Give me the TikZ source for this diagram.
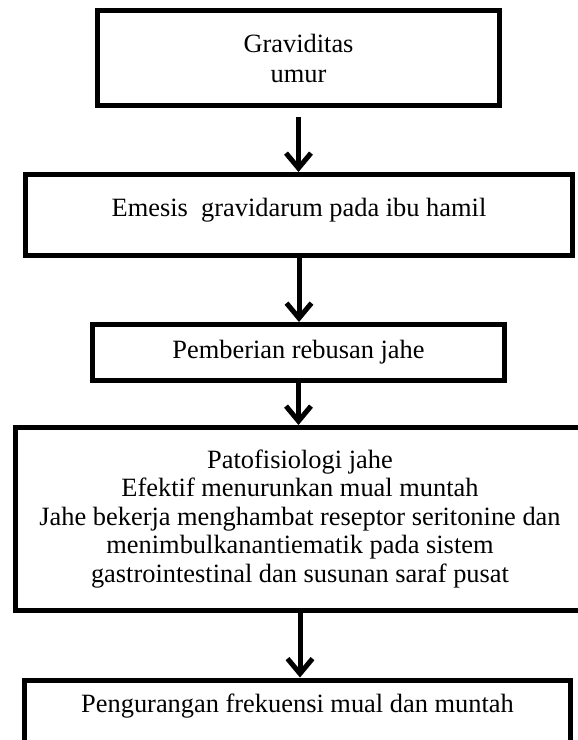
\documentclass[tikz,border=0pt]{standalone}
\usepackage{fontspec}
\setmainfont{Liberation Serif}
\usetikzlibrary{arrows.meta}
\begin{document}
\begin{tikzpicture}[x=1pt,y=-1pt,
  box/.style={draw=black, line width=5pt, rectangle, align=center, inner sep=0pt,
    font=\fontsize{26.4}{30}\selectfont},
  flow/.style={line width=5pt, -{Straight Barb[length=15pt,width=25pt]}}]
\useasboundingbox (0,0) rectangle (578,740);
\clip (0,0) rectangle (578,740);
\fill[white] (0,0) rectangle (578,740);
\node[box, minimum width=402pt, minimum height=95pt] (b1) at (298.5,58) {Graviditas\\umur};
\node[box, minimum width=547pt, minimum height=81pt, text depth=16pt] (b2) at (299,215) {Emesis\ \ gravidarum pada ibu hamil};
\node[box, minimum width=412pt, minimum height=56pt] (b3) at (298.5,352.5) {Pemberian rebusan jahe};
\node[box, minimum width=569pt, minimum height=183pt, font=\fontsize{26.4}{28.5}\selectfont] (b4) at (300,519)
  {Patofisiologi jahe\\Efektif menurunkan mual muntah\\Jahe bekerja menghambat reseptor seritonine dan\\menimbulkanantiematik pada sistem\\gastrointestinal dan susunan saraf pusat};
\node[box, anchor=north, minimum width=546pt, inner ysep=14pt, text depth=70pt] (b5) at (297.5,677.5) {Pengurangan frekuensi mual dan muntah};
\draw[flow, shorten <=9pt] (b1.south) -- (b1.south |- b2.north);
\draw[flow] (b2.south) -- (b2.south |- b3.north);
\draw[flow] (b3.south) -- (b3.south |- b4.north);
\draw[flow] (b4.south) -- (b4.south |- b5.north);
\end{tikzpicture}
\end{document}
